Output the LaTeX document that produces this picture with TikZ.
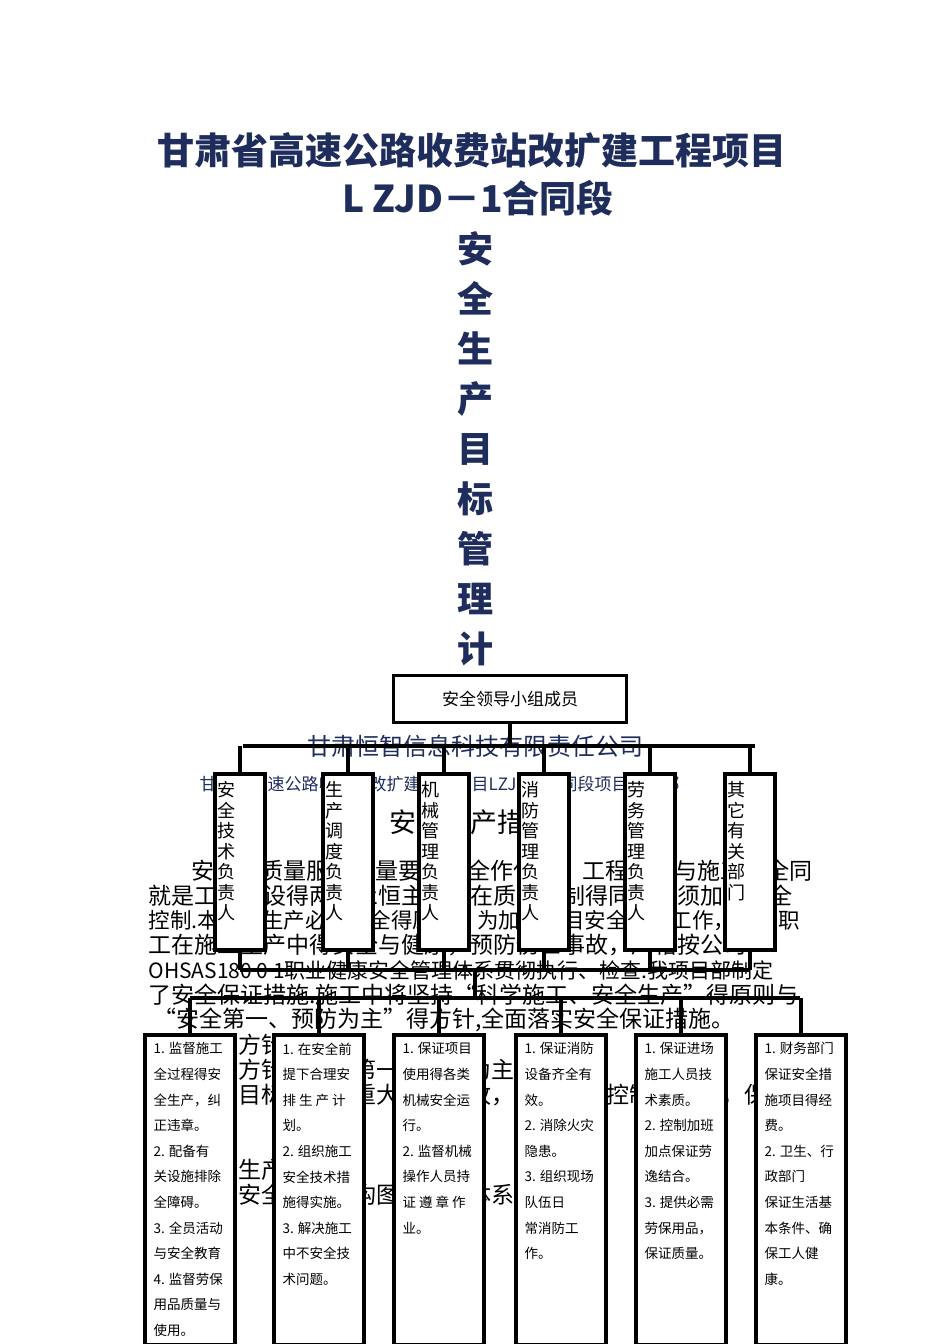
\documentclass[tikz,border=0pt]{standalone}
\usepackage{fontspec}
\setmainfont{Noto Sans CJK SC}
\definecolor{navy}{HTML}{1F2D5C}
\begin{document}
\begin{tikzpicture}[x=1pt,y=-1pt,
  ln/.style={line width=3.5pt},
  tall/.style={draw,line width=3.5pt,fill=white,minimum width=50pt,minimum height=176pt,anchor=north west,inner sep=0pt},
  vtxt/.style={anchor=north,align=center,font=\fontsize{18}{20.5}\selectfont},
  low/.style={draw,line width=3.5pt,fill=white,minimum width=90pt,minimum height=310pt,anchor=north west,inner sep=0pt},
  ltxt/.style={anchor=north west,align=left,font=\fontsize{13.5}{25.6}\selectfont},
  para/.style={anchor=west,font=\fontsize{23}{24}\selectfont}]
\useasboundingbox (0,0) rectangle (950,1344);
% title
\node[navy,font=\fontsize{37}{40}\selectfont\bfseries] (t1) at (472,150) {甘肃省高速公路收费站改扩建工程项目};
\node[navy,font=\fontsize{37}{40}\selectfont\bfseries] (t2) at (478,198) {L ZJD－1合同段};
\node[navy,anchor=north,align=center,font=\fontsize{36}{50}\selectfont\bfseries] (t3) at (475,228) {安\\全\\生\\产\\目\\标\\管\\理\\计};
% background text
\node[navy,font=\fontsize{24}{26}\selectfont] (co) at (475,746) {甘肃恒智信息科技有限责任公司};
\node[navy,anchor=west,font=\fontsize{17}{18}\selectfont] (pr) at (196,784) {甘肃省高速公路收费站改扩建工程项目LZJD-1合同段项目经理部};
\node[font=\fontsize{27}{30}\selectfont] (h) at (470,822) {安全生产措施};
\node[para] (p1) at (188,871) {安全与质量服从质量要求安全作保证，工程质量与施工安全同};
\node[para] (p2) at (145,896) {就是工程建设得两大永恒主题，在质量控制得同时必须加强安全};
\node[para,font=\fontsize{21.5}{24}\selectfont] (p3) at (145,920) {控制.本工程生产必须安全得原则，为加强项目安全管理工作，保证职};
\node[para] (p4) at (145,945) {工在施工生产中得安全与健康，预防伤亡事故，严格按公司};
\node[para,font=\fontsize{21}{24}\selectfont] (p5) at (145,970) {OHSAS180 0 1职业健康安全管理体系贯彻执行、检查.我项目部制定};
\node[para] (p6) at (145,995) {了安全保证措施.施工中将坚持“科学施工、安全生产"得原则与};
\node[para] (p7) at (150,1020) {“安全第一、预防为主"得方针,全面落实安全保证措施。};
\node[para] (q1) at (235,1045) {方针与目标};
\node[para] (q2) at (235,1070) {方针：安全第一、预防为主};
\node[para] (q3) at (235,1095) {目标：杜绝重大伤亡事故，一般事故控制在为零，保证};
\node[para] (q4) at (235,1170) {生产（安全）};
\node[para] (q5) at (235,1195) {安全组织机构图及安全体系};
% top box
\node[draw,line width=3.5pt,fill=white,minimum width=233pt,minimum height=47pt,font=\fontsize{17}{20}\selectfont] (top) at (510,699) {安全领导小组成员};
\coordinate (hb) at (510,746);
\draw[ln] (top.south) -- (hb);
\draw[ln] (243,746) -- (755,746);
% tall boxes
\foreach \n/\x/\t in {a/213/{安\\全\\技\\术\\负\\责\\人},b/321/{生\\产\\调\\度\\负\\责\\人},c/417/{机\\械\\管\\理\\负\\责\\人},d/517/{消\\防\\管\\理\\负\\责\\人},e/623/{劳\\务\\管\\理\\负\\责\\人},f/723/{其\\它\\有\\关\\部\\门}}{
  \node[tall] (\n) at (\x,772) {};
  \node[vtxt] at ([xshift=-13pt,yshift=-6pt]\n.north) {\t};
}
\foreach \n in {a,b,c,d,e,f}{\draw[ln] (\n.north|-hb) -- (\n.north); \draw[ln] (\n.south) -- (\n.south|-{(0,970)});}
\draw[ln] (a.south|-{(0,970)}) -- (f.south|-{(0,970)});
\draw[ln] (475,970) -- (475,998);
\draw[ln] (190,998) -- (800,998);
% lower boxes
\node[low] (A) at (143,1033) {};
\node[low] (B) at (272,1033) {};
\node[low] (C) at (392,1033) {};
\node[low] (D) at (514,1033) {};
\node[low] (E) at (634,1033) {};
\node[low] (F) at (754,1033) {};
\foreach \n in {A,B,C,D,E,F}{\draw[ln] (\n.north|-{(0,998)}) -- (\n.north);}
\node[ltxt] at ([xshift=7pt,yshift=-6pt]A.north west) {1. 监督施工\\全过程得安\\全生产，纠\\正违章。\\2. 配备有\\关设施排除\\全障碍。\\3. 全员活动\\与安全教育\\4. 监督劳保\\用品质量与\\使用。};
\node[ltxt] at ([xshift=7pt,yshift=-6pt]B.north west) {1. 在安全前\\提下合理安\\排 生 产 计\\划。\\2. 组织施工\\安全技术措\\施得实施。\\3. 解决施工\\中不安全技\\术问题。};
\node[ltxt] at ([xshift=7pt,yshift=-6pt]C.north west) {1. 保证项目\\使用得各类\\机械安全运\\行。\\2. 监督机械\\操作人员持\\证 遵 章 作\\业。};
\node[ltxt] at ([xshift=7pt,yshift=-6pt]D.north west) {1. 保证消防\\设备齐全有\\效。\\2. 消除火灾\\隐患。\\3. 组织现场\\队伍日\\常消防工\\作。};
\node[ltxt] at ([xshift=7pt,yshift=-6pt]E.north west) {1. 保证进场\\施工人员技\\术素质。\\2. 控制加班\\加点保证劳\\逸结合。\\3. 提供必需\\劳保用品，\\保证质量。};
\node[ltxt] at ([xshift=7pt,yshift=-6pt]F.north west) {1. 财务部门\\保证安全措\\施项目得经\\费。\\2. 卫生、行\\政部门\\保证生活基\\本条件、确\\保工人健\\康。};
\end{tikzpicture}
\end{document}
